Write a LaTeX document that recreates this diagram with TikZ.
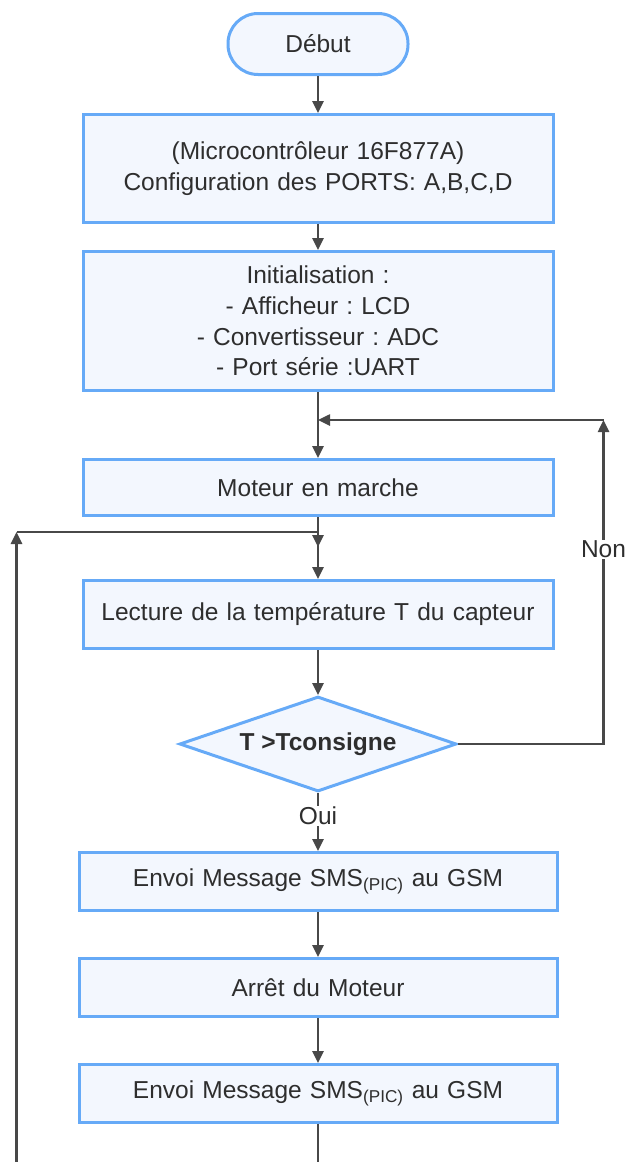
\documentclass[tikz,border=0pt]{standalone}
\usepackage{fontspec}
\setmainfont{Liberation Sans}
\frenchspacing
\usetikzlibrary{shapes,arrows.meta,positioning}
\definecolor{boxline}{HTML}{66AAF7}
\definecolor{boxfill}{HTML}{F3F7FE}
\definecolor{arrowgray}{HTML}{484848}
\definecolor{textgray}{HTML}{2E2E2E}
\tikzstyle{line} = [draw, color=arrowgray, line width=2.5pt, -{Triangle[length=12pt,width=11pt]}]
\tikzstyle{start} = [rectangle, draw=boxline, fill=boxfill, line width=3pt,
  rounded corners=30pt, minimum width=180pt, minimum height=61pt, text=textgray,
  font=\fontsize{24.5}{30.7}\selectfont]
\tikzstyle{block} = [rectangle, draw=boxline, fill=boxfill, line width=3pt,
  minimum width=470pt, text width=460pt, inner sep=4pt, align=center, text=textgray,
  font=\fontsize{24.5}{30.7}\selectfont]
\tikzstyle{lblock} = [block, minimum width=478pt]
\tikzstyle{decision} = [diamond, draw=boxline, fill=boxfill, line width=3pt,
  aspect=2.86, minimum width=277pt, minimum height=95pt, inner sep=0pt, text=textgray,
  font=\bfseries\fontsize{24.5}{30.7}\selectfont]
\tikzstyle{lbl} = [fill=white, text=textgray, inner sep=1pt,
  font=\fontsize{24.5}{30.7}\selectfont]

\begin{document}
\begin{tikzpicture}[x=1pt, y=1pt]
    \useasboundingbox (0,0) rectangle (626,-1162);
    \clip (0,0) rectangle (626,-1162);

    \node [start] (debut) at (318,-44) {Début};
    \node [block, below=37pt of debut, minimum height=108pt] (config)
      {(Microcontrôleur 16F877A)\\Configuration des PORTS: A,B,C,D};
    \node [block, below=26pt of config, minimum height=139pt] (init)
      {Initialisation :\\- Afficheur : LCD\\- Convertisseur : ADC\\- Port série :UART};
    \node [block, below=66pt of init, minimum height=56pt] (moteur) {Moteur en marche};
    \node [block, below=62pt of moteur, minimum height=68pt] (lecture)
      {Lecture de la température T du capteur};
    \node [decision, below=45pt of lecture] (test) {T >Tconsigne};
    \node [lblock, below=58pt of test, minimum height=58pt] (envoiA)
      {Envoi Message SMS\textsubscript{(PIC)} au GSM};
    \node [lblock, below=45pt of envoiA, minimum height=58pt] (arret) {Arrêt du Moteur};
    \node [lblock, below=45pt of arret, minimum height=58pt] (envoiB)
      {Envoi Message SMS\textsubscript{(PIC)} au GSM};

    \coordinate [above right=38pt and 49pt of moteur.north east] (nonc);
    \coordinate [below left=15pt and 65pt of moteur.south west] (retc);
    \coordinate [below=30pt of moteur.south] (joinc);
    \coordinate [below=50pt of envoiB.south] (botc);

    \path [line] (debut) -- (config);
    \path [line] (config) -- (init);
    \path [line] (init) -- (moteur);
    \path [line] (moteur) -- (lecture);
    \path [line] (lecture) -- (test);
    \path [line] (test) -- node [lbl, pos=0.4] {Oui} (envoiA);
    \path [line] (envoiA) -- (arret);
    \path [line] (arret) -- (envoiB);

    \path [line] (test.east) -| node [lbl, pos=0.8] {Non} (nonc);
    \path [line] (nonc) -- (nonc -| moteur.north);
    \path [line] (envoiB) -- (botc) -| (retc);
    \path [line] (retc) -| (joinc);

  \end{tikzpicture}
\end{document}
